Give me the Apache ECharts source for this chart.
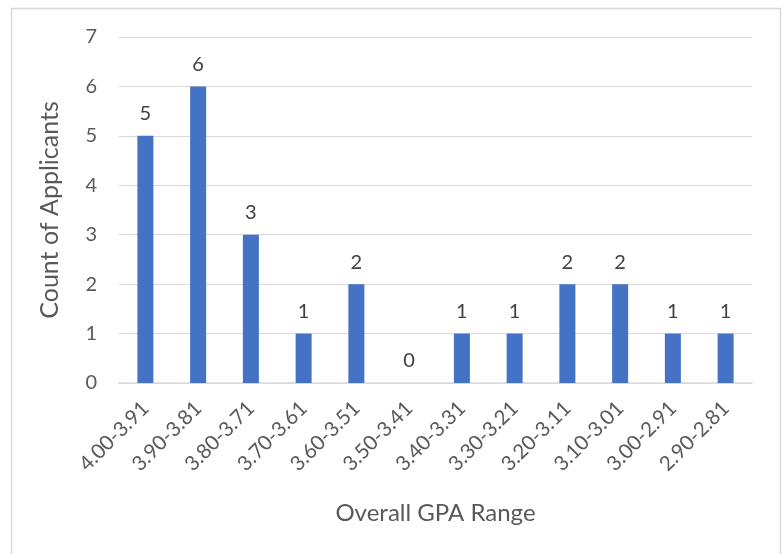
<!DOCTYPE html>
<html><head><meta charset="utf-8">
<script src="https://cdn.jsdelivr.net/npm/echarts@6/dist/echarts.min.js"></script>
<style>html,body{margin:0;padding:0;background:#fff}#c{width:784px;height:554px}</style>
</head><body><div id="c"></div>
<script>
const categories = ["4.00-3.91","3.90-3.81","3.80-3.71","3.70-3.61","3.60-3.51","3.50-3.41","3.40-3.31","3.30-3.21","3.20-3.11","3.10-3.01","3.00-2.91","2.90-2.81"];
const counts = [5,6,3,1,2,0,1,1,2,2,1,1];
const yTicks = [0,1,2,3,4,5,6,7];
const FONT = 'Lato, "Open Sans", sans-serif';
const chart = echarts.init(document.getElementById('c'));
chart.setOption({
  animation:false,
  graphic:[{type:'rect',shape:{x:11.5,y:8.5,width:769,height:560},style:{fill:'none',stroke:'#d9d9d9',lineWidth:1.5},silent:true}],
  grid:{left:119,right:32,top:37,bottom:171},
  xAxis:{type:'category',data:categories,
    name:'Overall GPA Range',nameLocation:'middle',nameGap:118,
    nameTextStyle:{fontFamily:FONT,fontSize:24,color:'#595959'},
    axisLine:{lineStyle:{color:'#d9d9d9',width:1.5}},axisTick:{show:false},
    axisLabel:{rotate:45,interval:0,margin:22,fontFamily:FONT,fontSize:20.5,color:'#595959'}},
  yAxis:{type:'value',min:yTicks[0],max:yTicks[yTicks.length-1],interval:1,
    name:'Count of Applicants',nameLocation:'middle',nameGap:57,
    nameTextStyle:{fontFamily:FONT,fontSize:25,color:'#595959'},
    axisLine:{show:false},axisTick:{show:false},
    splitLine:{lineStyle:{color:'#d9d9d9',width:1.2}},
    axisLabel:{margin:22,fontFamily:FONT,fontSize:20,color:'#595959'}},
  series:[{type:'bar',data:counts,barWidth:16,
    itemStyle:{color:'#4472c4'},
    label:{show:true,position:'top',distance:12,fontFamily:FONT,fontSize:20,color:'#404040'}}]
});
</script></body></html>
